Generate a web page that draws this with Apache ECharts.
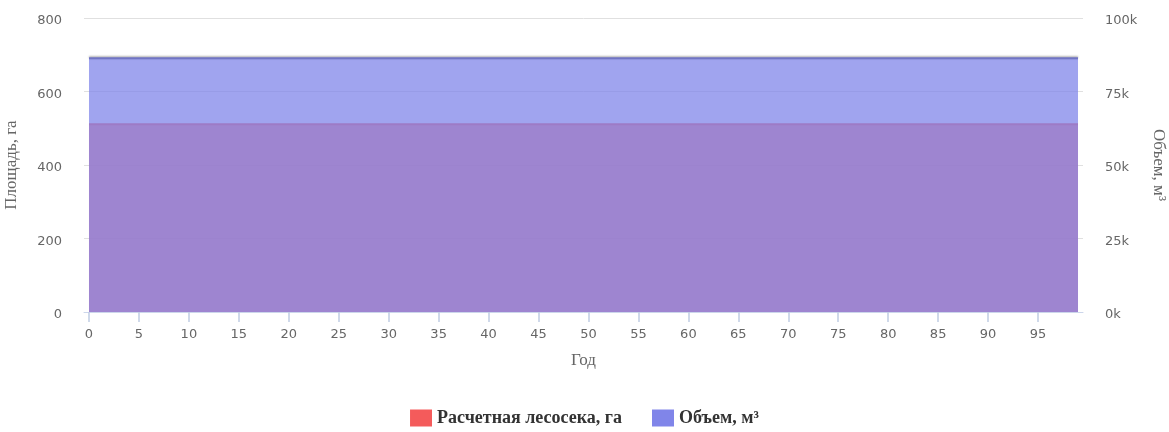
<!DOCTYPE html>
<html><head><meta charset="utf-8">
<script src="https://cdn.jsdelivr.net/npm/echarts@6/dist/echarts.min.js"></script>
<style>html,body{margin:0;padding:0;background:#fff}#c{width:1169px;height:432px}</style>
</head><body><div id="c"></div>
<script>
var years = [0,1,2,3,4,5,6,7,8,9,10,11,12,13,14,15,16,17,18,19,20,21,22,23,24,25,26,27,28,29,30,31,32,33,34,35,36,37,38,39,40,41,42,43,44,45,46,47,48,49,50,51,52,53,54,55,56,57,58,59,60,61,62,63,64,65,66,67,68,69,70,71,72,73,74,75,76,77,78,79,80,81,82,83,84,85,86,87,88,89,90,91,92,93,94,95,96,97,98,99];
var areaHa = [511,511,511,511,511,511,511,511,511,511,511,511,511,511,511,511,511,511,511,511,511,511,511,511,511,511,511,511,511,511,511,511,511,511,511,511,511,511,511,511,511,511,511,511,511,511,511,511,511,511,511,511,511,511,511,511,511,511,511,511,511,511,511,511,511,511,511,511,511,511,511,511,511,511,511,511,511,511,511,511,511,511,511,511,511,511,511,511,511,511,511,511,511,511,511,511,511,511,511,511];
var volumeM3 = [86300,86300,86300,86300,86300,86300,86300,86300,86300,86300,86300,86300,86300,86300,86300,86300,86300,86300,86300,86300,86300,86300,86300,86300,86300,86300,86300,86300,86300,86300,86300,86300,86300,86300,86300,86300,86300,86300,86300,86300,86300,86300,86300,86300,86300,86300,86300,86300,86300,86300,86300,86300,86300,86300,86300,86300,86300,86300,86300,86300,86300,86300,86300,86300,86300,86300,86300,86300,86300,86300,86300,86300,86300,86300,86300,86300,86300,86300,86300,86300,86300,86300,86300,86300,86300,86300,86300,86300,86300,86300,86300,86300,86300,86300,86300,86300,86300,86300,86300,86300];
var seriesNames = ['Расчетная лесосека, га', 'Объем, м³'];
var axisNames = ['Площадь, га', 'Объем, м³', 'Год'];

var chart = echarts.init(document.getElementById('c'));
var labelFont = {color:'#666', fontSize:13, fontFamily:'DejaVu Sans'};
var nameFont = {color:'#666', fontSize:17, fontFamily:'Liberation Serif'};
var richLbl = {a:{color:'#666', fontSize:13, fontFamily:'DejaVu Sans', padding:[6,0,0,0]}};
function every5(i){ return i % 5 === 0; }
chart.setOption({
  animation:false,
  color:['#f45b5b','#8085e9'],
  grid:{left:84, right:86, top:18, bottom:120, containLabel:false, outerBoundsMode:'none'},
  legend:{
    bottom:0, left:'center', itemWidth:22, itemHeight:17, itemGap:30,
    icon:'rect',
    textStyle:{fontFamily:'Liberation Serif', fontWeight:'bold', fontSize:18, color:'#333'},
    data:seriesNames
  },
  xAxis:{
    type:'category', data:years, boundaryGap:true,
    name:axisNames[2], nameLocation:'middle', nameGap:40, nameTextStyle:nameFont,
    axisLine:{show:true, lineStyle:{color:'#ccd6eb', width:1}},
    axisTick:{show:true, inside:false, alignWithLabel:true, interval:every5, length:10, lineStyle:{color:'#c0cde4', width:1.5}},
    axisLabel:Object.assign({interval:every5, margin:16}, labelFont),
    splitLine:{show:false}
  },
  yAxis:[
    {type:'value', min:0, max:800, interval:200,
     name:axisNames[0], nameLocation:'middle', nameGap:64, nameRotate:90, nameTextStyle:nameFont,
     axisLine:{show:false}, axisTick:{show:false},
     axisLabel:{margin:22, formatter:function(v){return '{a|'+v+'}';}, rich:richLbl},
     splitLine:{lineStyle:{color:'#e0e0e0'}}},
    {type:'value', min:0, max:100000, interval:25000, position:'right',
     name:axisNames[1], nameLocation:'middle', nameGap:67, nameRotate:-90, nameTextStyle:nameFont,
     axisLine:{show:false}, axisTick:{show:false},
     axisLabel:{margin:22, formatter:function(v){return '{a|'+(v/1000)+'k}';}, rich:richLbl},
     splitLine:{show:false}}
  ],
  series:[
    {name:seriesNames[0], type:'line', yAxisIndex:0, data:areaHa, symbol:'none', z:2,
     lineStyle:{width:2, color:'#f45b5b'}, areaStyle:{opacity:0.75}},
    {name:seriesNames[1], type:'line', yAxisIndex:1, data:volumeM3, symbol:'none', z:3,
     lineStyle:{width:2, color:'#7074c4', shadowColor:'rgba(0,0,0,0.35)', shadowBlur:2, shadowOffsetY:-1}, areaStyle:{opacity:0.75}}
  ]
});
</script></body></html>
